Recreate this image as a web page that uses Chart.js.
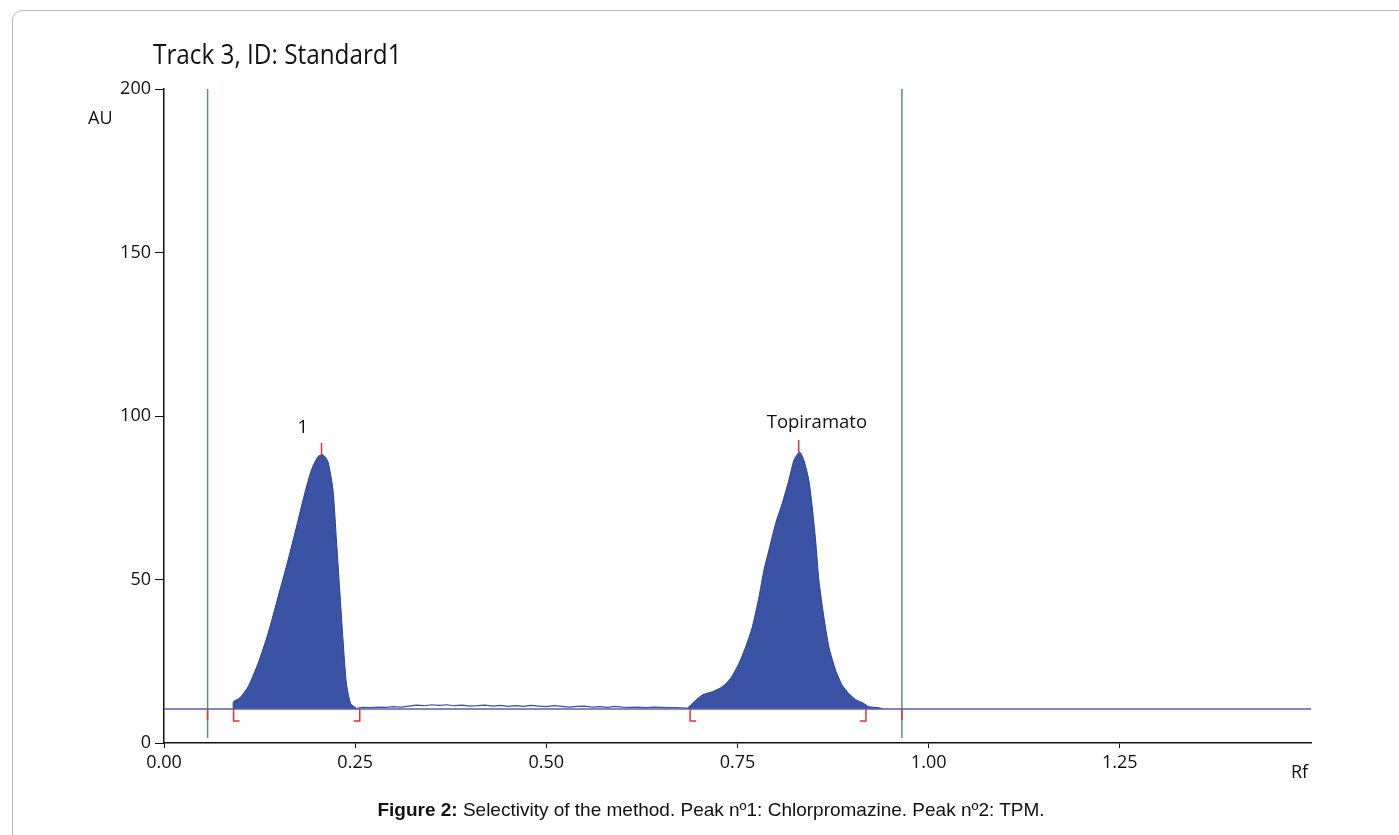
<!DOCTYPE html>
<html>
<head>
<meta charset="utf-8">
<script src="https://cdn.jsdelivr.net/npm/chart.js@4.4.1/dist/chart.umd.min.js"></script>
<style>
  body { margin: 0; background: #fff; }
  #wrap { position: relative; width: 1399px; height: 835px; overflow: hidden; }
  #frame { position: absolute; left: 12px; top: 10px; width: 1420px; height: 900px; border: 1px solid #b9b9b9; border-radius: 10px; }
  canvas { position: absolute; left: 0; top: 0; }
  .txt { position: absolute; font-family: 'Open Sans'; color: #111; white-space: nowrap; line-height: 1; }
  #title { transform: scaleX(0.9); transform-origin: left center; }
  #caption { position: absolute; left: 0; width: 1422px; top: 799px; text-align: center; font-family: 'Liberation Sans', Arial; font-size: 19px; color: #111; }
</style>
</head>
<body>
<div id="wrap">
  <div id="frame"></div>
  <canvas id="chart" width="1399" height="835"></canvas>
  <div id="title" class="txt" style="left:153px;top:40px;font-size:27px;">Track 3, ID: Standard1</div>
  <div class="txt" style="left:88px;top:108px;font-size:18px;">AU</div>
  <div class="txt" style="left:1291px;top:762px;font-size:18px;">Rf</div>
  <div id="caption"><b>Figure 2:</b> Selectivity of the method. Peak nº1: Chlorpromazine. Peak nº2: TPM.</div>
</div>
<script>
// densitogram values
const baselineAU = 10.4;

const peak1Rf = [0.0905, 0.0908, 0.0992, 0.110, 0.1231, 0.1362, 0.1492, 0.1623, 0.1732, 0.1841, 0.1928, 0.2014, 0.2080, 0.2145, 0.2210, 0.2255, 0.2298, 0.2341, 0.2385, 0.2441, 0.2516];
const peak1AU = [10.4, 12.6, 13.8, 17.2, 24.4, 33.6, 44.7, 56.0, 66.1, 76.4, 83.5, 87.6, 88.1, 86.0, 77.4, 62.1, 46.8, 31.5, 18.3, 12.1, 10.6];

const peak2Rf = [0.6845, 0.6932, 0.7041, 0.7171, 0.7302, 0.7411, 0.7520, 0.7607, 0.7694, 0.7781, 0.7846, 0.7911, 0.7999, 0.8085, 0.8172, 0.8238, 0.8312, 0.8368, 0.8433, 0.8477, 0.8521, 0.8564, 0.8629, 0.8695, 0.8782, 0.8868, 0.8956, 0.9043, 0.9151, 0.9217, 0.9347, 0.9400];
const peak2AU = [10.6, 12.6, 14.7, 15.7, 17.2, 19.8, 24.4, 29.4, 35.5, 44.7, 52.9, 59.0, 67.2, 73.3, 80.4, 86.5, 89.0, 86.5, 80.4, 72.2, 62.1, 49.9, 38.6, 29.4, 22.3, 17.7, 15.1, 13.3, 12.1, 11.1, 10.8, 10.5];

const noiseRf = [0.252, 0.26, 0.27, 0.28, 0.29, 0.30, 0.31, 0.32, 0.33, 0.34, 0.35, 0.36, 0.37, 0.38, 0.39, 0.40, 0.41, 0.42, 0.43, 0.44, 0.45, 0.46, 0.47, 0.48, 0.49, 0.50, 0.51, 0.52, 0.53, 0.54, 0.55, 0.56, 0.57, 0.58, 0.59, 0.60, 0.61, 0.62, 0.63, 0.64, 0.65, 0.66, 0.67, 0.685];
const noiseAU = [10.6, 10.9, 10.8, 11.0, 10.9, 11.1, 11.0, 11.3, 11.6, 11.4, 11.7, 11.5, 11.7, 11.4, 11.6, 11.3, 11.4, 11.6, 11.3, 11.5, 11.2, 11.4, 11.2, 11.5, 11.3, 11.1, 11.4, 11.2, 11.0, 11.2, 11.3, 11.0, 11.1, 10.9, 11.2, 11.0, 10.9, 11.0, 10.8, 11.0, 10.9, 10.8, 10.8, 10.7];

const frontRf = [0.057, 0.965];
const peakStartRf = [0.091, 0.688];
const peakEndRf = [0.256, 0.918];
const peakMaxRf = [0.206, 0.830];
const peakMaxAU = [88.1, 89.0];
const peakNames = ['1', 'Topiramato'];
const nameRf = [0.1815, 0.8538];
const nameAU = [96.3, 97.9];

const xTicks = [0, 0.25, 0.5, 0.75, 1.0, 1.25];

const toPoints = (xs, ys) => xs.map((x, i) => ({ x: x, y: ys[i] }));

const markers = {
  id: 'markers',
  afterDatasetsDraw(chart) {
    const ctx = chart.ctx;
    const xs = chart.scales.x, ys = chart.scales.y;
    const yb = ys.getPixelForValue(baselineAU);
    ctx.save();
    ctx.strokeStyle = '#e0332e';
    ctx.lineWidth = 1.5;
    ctx.beginPath();
    frontRf.forEach(rf => {
      const px = xs.getPixelForValue(rf);
      ctx.moveTo(px, yb); ctx.lineTo(px, yb + 11);
    });
    peakStartRf.forEach(rf => {
      const px = xs.getPixelForValue(rf);
      ctx.moveTo(px, yb); ctx.lineTo(px, yb + 12); ctx.lineTo(px + 6, yb + 12);
    });
    peakEndRf.forEach(rf => {
      const px = xs.getPixelForValue(rf);
      ctx.moveTo(px, yb); ctx.lineTo(px, yb + 12); ctx.lineTo(px - 6, yb + 12);
    });
    peakMaxRf.forEach((rf, i) => {
      const px = xs.getPixelForValue(rf);
      const py = ys.getPixelForValue(peakMaxAU[i]);
      ctx.moveTo(px, py); ctx.lineTo(px, py - 12);
    });
    ctx.stroke();

    ctx.fillStyle = '#111';
    ctx.font = '18.5px "Open Sans"';
    ctx.textAlign = 'center';
    ctx.textBaseline = 'middle';
    peakNames.forEach((name, i) => {
      ctx.fillText(name, xs.getPixelForValue(nameRf[i]), ys.getPixelForValue(nameAU[i]));
    });
    ctx.restore();
  }
};

const peakStyle = {
  fill: { value: baselineAU },
  backgroundColor: '#3a53a4',
  borderColor: '#2c3f92',
  borderWidth: 1,
  pointRadius: 0,
  tension: 0.2
};

new Chart(document.getElementById('chart'), {
  type: 'line',
  data: {
    datasets: [
      { data: [{ x: 0, y: baselineAU }, { x: 1.5, y: baselineAU }], borderColor: '#5b5fb0', borderWidth: 1.5, pointRadius: 0 },
      { data: toPoints(noiseRf, noiseAU), borderColor: '#3c4fa0', borderWidth: 1.2, pointRadius: 0 },
      Object.assign({ data: toPoints(peak1Rf, peak1AU) }, peakStyle),
      Object.assign({ data: toPoints(peak2Rf, peak2AU) }, peakStyle),
      { data: [{ x: frontRf[0], y: 1.5 }, { x: frontRf[0], y: 200 }], borderColor: '#5b8d92', borderWidth: 1.5, pointRadius: 0 },
      { data: [{ x: frontRf[1], y: 1.5 }, { x: frontRf[1], y: 200 }], borderColor: '#5b8d92', borderWidth: 1.5, pointRadius: 0 }
    ]
  },
  options: {
    responsive: false,
    animation: false,
    layout: { padding: { left: 0, top: 89, right: 88, bottom: 52 } },
    plugins: { legend: { display: false }, tooltip: { enabled: false } },
    scales: {
      x: {
        type: 'linear', min: 0, max: 1.5,
        afterFit: s => { s.height = 40; },
        afterBuildTicks: s => { s.ticks = xTicks.map(v => ({ value: v })); },
        ticks: { color: '#111', font: { family: 'Open Sans', size: 18 }, padding: 4, maxRotation: 0, callback: v => v.toFixed(2) },
        grid: { drawOnChartArea: false, color: '#111', tickLength: 5 },
        border: { color: '#111', width: 1.5 }
      },
      y: {
        min: 0, max: 200,
        afterFit: s => { s.width = 164; },
        ticks: { stepSize: 50, color: '#111', font: { family: 'Open Sans', size: 18 }, padding: 4 },
        grid: { drawOnChartArea: false, color: '#111', tickLength: 9 },
        border: { color: '#111', width: 1.5 }
      }
    }
  },
  plugins: [markers]
});
</script>
</body>
</html>
